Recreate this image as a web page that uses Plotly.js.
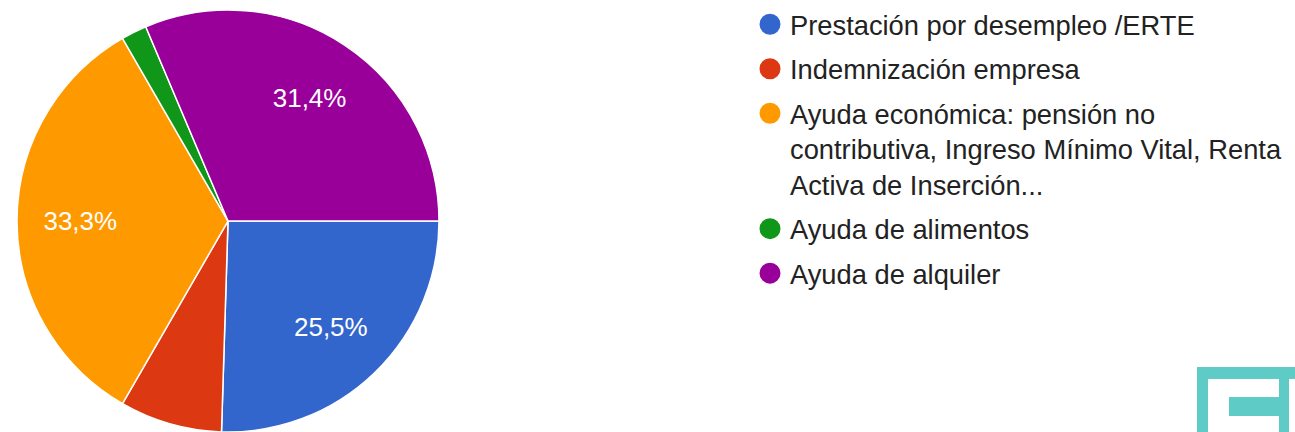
<!DOCTYPE html>
<html>
<head>
<meta charset="utf-8">
<script src="https://cdn.plot.ly/plotly-3.0.1.min.js"></script>
<style>
  html, body { margin: 0; padding: 0; background: #fff; overflow: hidden; }
  #chart { width: 1295px; height: 432px; }
</style>
</head>
<body>
<div id="chart"></div>
<script>
// ---- data ----
const categories = [
  'Prestación por desempleo /ERTE',
  'Indemnización empresa',
  'Ayuda económica: pensión no<br>contributiva, Ingreso Mínimo Vital, Renta<br>Activa de Inserción...',
  'Ayuda de alimentos',
  'Ayuda de alquiler'
];
const responses = [13, 4, 17, 1, 16];
const sliceColors = ['#3366CC', '#DC3912', '#FF9900', '#109618', '#990099'];
const showLabel = [true, false, true, false, true];

const FONT = 'Arial, "Liberation Sans", sans-serif';
const W = 1295, H = 432;
const pieDomain = { x: [17 / W, 439 / W], y: [0, 1 - 10 / H] };

// coloured slices
const pieTrace = {
  type: 'pie',
  labels: categories,
  values: responses,
  sort: false,
  direction: 'clockwise',
  rotation: 90,
  marker: { colors: sliceColors, line: { color: '#ffffff', width: 1.5 } },
  textinfo: 'none',
  domain: pieDomain,
  showlegend: false,
  hoverinfo: 'label+percent'
};

// transparent ring carrying the percentage labels (places them further out)
const labelRing = {
  type: 'pie',
  labels: categories,
  values: responses,
  sort: false,
  direction: 'clockwise',
  rotation: 90,
  hole: 0.4,
  marker: { colors: sliceColors.map(() => 'rgba(0,0,0,0)'), line: { width: 0 } },
  texttemplate: '%{percent:.1%}',
  textposition: showLabel.map(s => s ? 'inside' : 'none'),
  insidetextorientation: 'horizontal',
  insidetextfont: { family: FONT, size: 26, color: '#ffffff' },
  domain: pieDomain,
  showlegend: false,
  hoverinfo: 'skip'
};

// legend entries (circle symbols) matching the slices
const legendTraces = categories.map((c, i) => ({
  type: 'scatter',
  mode: 'markers',
  x: [null], y: [null],
  name: c,
  legendgroup: 'g' + i,
  marker: { symbol: 'circle', size: 16, color: sliceColors[i], line: { color: sliceColors[i], width: 5 } },
  hoverinfo: 'skip'
}));

// logo decoration (bottom right)
const teal = '#5FCBC7';
function rectPx(x0, y0, x1, y1) {
  return { type: 'rect', xref: 'paper', yref: 'paper',
    x0: x0 / W, x1: x1 / W, y0: 1 - y1 / H, y1: 1 - y0 / H,
    fillcolor: teal, line: { width: 0 }, layer: 'above' };
}

const layout = {
  width: W, height: H,
  margin: { l: 0, r: 0, t: 0, b: 0, autoexpand: false },
  paper_bgcolor: '#ffffff',
  plot_bgcolor: '#ffffff',
  separators: ',.',
  font: { family: FONT, color: '#222222' },
  xaxis: { visible: false, domain: [0.9, 0.91] },
  yaxis: { visible: false, domain: [0.9, 0.91] },
  showlegend: true,
  legend: {
    x: 750 / W, xanchor: 'left',
    y: 1, yanchor: 'top',
    font: { family: FONT, size: 27.3, color: '#222222' },
    traceorder: 'grouped',
    tracegroupgap: 6,
    valign: 'top',
    bgcolor: 'rgba(0,0,0,0)'
  },
  shapes: [
    rectPx(1197, 367, 1295, 379),
    rectPx(1197, 367, 1208, 432),
    rectPx(1229, 397, 1289, 416),
    rectPx(1279, 367, 1289, 432)
  ]
};

Plotly.newPlot('chart', [pieTrace, labelRing].concat(legendTraces), layout, { displayModeBar: false });
</script>
</body>
</html>
